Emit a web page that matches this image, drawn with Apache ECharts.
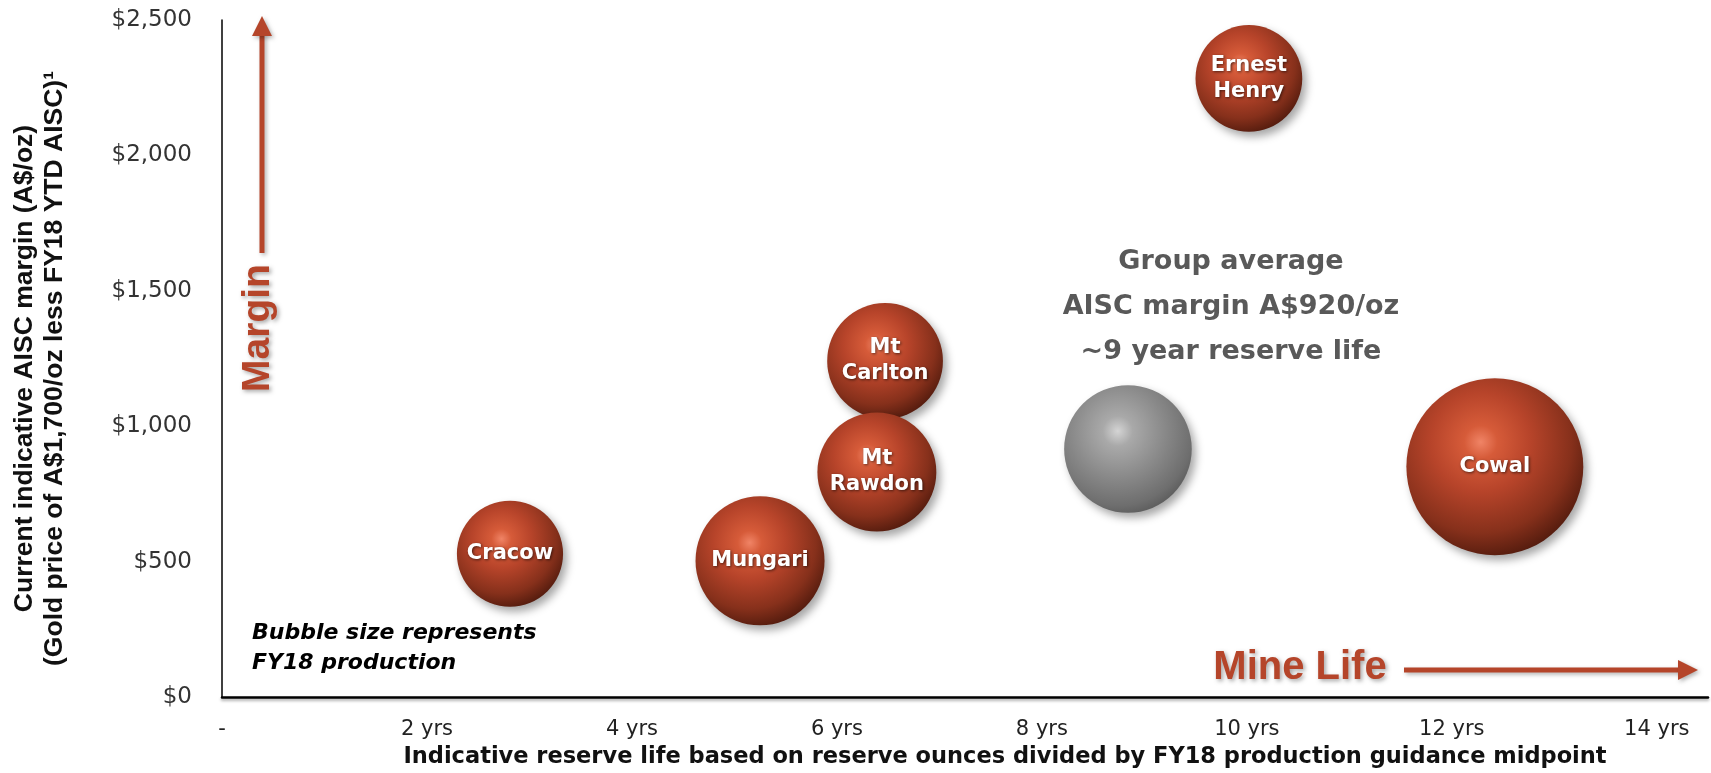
<!DOCTYPE html>
<html><head><meta charset="utf-8">
<script src="https://cdn.jsdelivr.net/npm/echarts@6/dist/echarts.min.js"></script>
<style>html,body{margin:0;padding:0;background:#fff}#c{width:1711px;height:773px}</style>
</head><body><div id="c"></div>
<script>
// ---- data ----
const mineNames = ['Cracow', 'Mungari', 'Mt Carlton', 'Mt Rawdon', 'Ernest Henry', 'Cowal'];
const reserveLifeYears = [2.81, 5.25, 6.47, 6.39, 10.02, 12.42];
const aiscMarginAUD = [529, 503, 1241, 831, 2284, 850];
const fy18ProductionKoz = [90, 133, 107, 113, 91, 250];

const groupName = ['Group average'];
const groupReserveLife = [8.84];
const groupMargin = [916];
const groupProduction = [130];

const xTickValues = [0, 2, 4, 6, 8, 10, 12, 14];
const yTickValues = [0, 500, 1000, 1500, 2000, 2500];

const xAxisTitle = 'Indicative reserve life based on reserve ounces divided by FY18 production guidance midpoint';
const yAxisTitle = 'Current indicative AISC margin (A$/oz)\n(Gold price of A$1,700/oz less FY18 YTD AISC)¹';
const groupNote = 'Group average\nAISC margin A$920/oz\n~9 year reserve life';
const sizeNote = 'Bubble size represents\nFY18 production';

// ---- chart ----
const ACCENT = '#b5452a';
const SIZE_K = 11.19;

const mineData = mineNames.map((n, i) => ({ name: n, value: [reserveLifeYears[i], aiscMarginAUD[i], fy18ProductionKoz[i]] }));
const groupData = groupName.map((n, i) => ({ name: n, value: [groupReserveLife[i], groupMargin[i], groupProduction[i]] }));

const redSphere = {
  type: 'radial', x: 0.42, y: 0.36, r: 0.78,
  colorStops: [
    { offset: 0, color: '#f08466' },
    { offset: 0.12, color: '#d65b39' },
    { offset: 0.36, color: '#b7442a' },
    { offset: 0.66, color: '#86301b' },
    { offset: 1, color: '#2e0c04' }
  ]
};
const graySphere = {
  type: 'radial', x: 0.42, y: 0.36, r: 0.78,
  colorStops: [
    { offset: 0, color: '#d4d4d4' },
    { offset: 0.15, color: '#a9a9a9' },
    { offset: 0.45, color: '#8b8b8b' },
    { offset: 0.75, color: '#6e6e6e' },
    { offset: 1, color: '#454545' }
  ]
};

const chart = echarts.init(document.getElementById('c'));
chart.setOption({
  animation: false,
  backgroundColor: '#ffffff',
  grid: { left: 222, right: 3, top: 20, bottom: 76, containLabel: false, outerBoundsMode: 'none' },
  xAxis: {
    type: 'value', min: 0, max: 14.5, interval: 2,
    axisLine: { show: true, onZero: false, lineStyle: { color: '#000', width: 2.5, shadowColor: 'rgba(0,0,0,0.35)', shadowBlur: 3, shadowOffsetY: 2 } },
    axisTick: { show: false },
    splitLine: { show: false },
    axisLabel: {
      margin: 22, fontFamily: 'DejaVu Sans', fontSize: 21, color: '#222', showMaxLabel: false,
      formatter: v => (xTickValues.indexOf(v) < 0 ? '' : (v === 0 ? '-' : v + ' yrs'))
    },
    name: xAxisTitle, nameLocation: 'middle', nameGap: 49,
    nameTextStyle: { fontFamily: 'DejaVu Sans', fontWeight: 'bold', fontSize: 22.5, color: '#111', padding: [0, 0, 0, 80] }
  },
  yAxis: {
    type: 'value', min: 0, max: 2500, interval: 500,
    axisLine: { show: true, lineStyle: { color: '#000', width: 1.5 } },
    axisTick: { show: false },
    splitLine: { show: false },
    axisLabel: {
      margin: 30, fontFamily: 'DejaVu Sans', fontSize: 23, color: '#333',
      formatter: v => (yTickValues.indexOf(v) < 0 ? '' : '$' + v.toLocaleString('en-US'))
    },
    name: yAxisTitle, nameLocation: 'middle', nameRotate: 90, nameGap: 152,
    nameTextStyle: { fontFamily: 'Liberation Sans', fontWeight: 'bold', fontSize: 26.5, lineHeight: 30, color: '#111', padding: [0, 20, 0, 0] }
  },
  series: [
    {
      type: 'scatter', name: 'Group average', data: groupData,
      symbol: 'circle', symbolSize: v => Math.sqrt(v[2]) * SIZE_K,
      itemStyle: { color: graySphere, opacity: 1, shadowColor: 'rgba(0,0,0,0.35)', shadowBlur: 8, shadowOffsetX: 4, shadowOffsetY: 5 },
      label: { show: false },
      emphasis: { disabled: true }, z: 2
    },
    {
      type: 'scatter', name: 'Mines', data: mineData,
      symbol: 'circle', symbolSize: v => Math.sqrt(v[2]) * SIZE_K,
      itemStyle: { color: redSphere, opacity: 1, shadowColor: 'rgba(0,0,0,0.35)', shadowBlur: 8, shadowOffsetX: 4, shadowOffsetY: 5 },
      label: {
        show: true, position: 'inside', formatter: p => p.name.replace(' ', '\n'),
        color: '#ffffff', fontFamily: 'DejaVu Sans', fontWeight: 'bold', fontSize: 21, lineHeight: 26,
        textShadowColor: 'rgba(0,0,0,0.6)', textShadowBlur: 3, textShadowOffsetX: 1, textShadowOffsetY: 1
      },
      emphasis: { disabled: true }, z: 3
    }
  ],
  graphic: [
    // Margin arrow
    { type: 'line', shape: { x1: 262, y1: 253, x2: 262, y2: 33 }, style: { stroke: ACCENT, lineWidth: 5, shadowColor: 'rgba(0,0,0,0.3)', shadowBlur: 4, shadowOffsetX: 2, shadowOffsetY: 2 }, z: 10 },
    { type: 'polygon', shape: { points: [[262, 16], [252, 36], [272, 36]] }, style: { fill: ACCENT, shadowColor: 'rgba(0,0,0,0.3)', shadowBlur: 4, shadowOffsetX: 2, shadowOffsetY: 2 }, z: 10 },
    { type: 'text', x: 258, y: 328, rotation: Math.PI / 2,
      style: { text: 'Margin', fontFamily: 'Liberation Sans', fontWeight: 'bold', fontSize: 39, fill: ACCENT, align: 'center', verticalAlign: 'middle',
        textShadowColor: 'rgba(0,0,0,0.35)', textShadowBlur: 4, textShadowOffsetX: 2, textShadowOffsetY: 2 }, z: 10 },
    // Mine life arrow
    { type: 'text', x: 1300, y: 668,
      style: { text: 'Mine Life', fontFamily: 'Liberation Sans', fontWeight: 'bold', fontSize: 40, fill: ACCENT, align: 'center', verticalAlign: 'middle',
        textShadowColor: 'rgba(0,0,0,0.35)', textShadowBlur: 4, textShadowOffsetX: 2, textShadowOffsetY: 2 }, z: 10 },
    { type: 'line', shape: { x1: 1404, y1: 670, x2: 1682, y2: 670 }, style: { stroke: ACCENT, lineWidth: 5, shadowColor: 'rgba(0,0,0,0.3)', shadowBlur: 4, shadowOffsetX: 2, shadowOffsetY: 2 }, z: 10 },
    { type: 'polygon', shape: { points: [[1698, 670], [1678, 660], [1678, 680]] }, style: { fill: ACCENT, shadowColor: 'rgba(0,0,0,0.3)', shadowBlur: 4, shadowOffsetX: 2, shadowOffsetY: 2 }, z: 10 },
    // notes
    { type: 'text', x: 252, y: 648,
      style: { text: sizeNote, fontFamily: 'DejaVu Sans', fontWeight: 'bold', fontStyle: 'italic', fontSize: 22, lineHeight: 30, fill: '#000', align: 'left', verticalAlign: 'middle' }, z: 10 },
    { type: 'text', x: 1231, y: 307,
      style: { text: groupNote, fontFamily: 'DejaVu Sans', fontWeight: 'bold', fontSize: 27, lineHeight: 45, fill: '#595959', align: 'center', verticalAlign: 'middle' }, z: 10 }
  ]
});
</script></body></html>
